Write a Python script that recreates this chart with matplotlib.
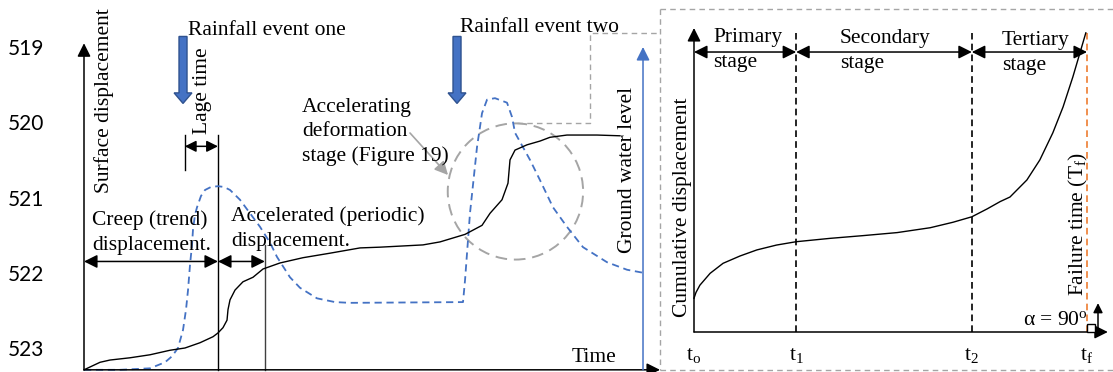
import matplotlib
matplotlib.use("Agg")
import matplotlib.pyplot as plt
from matplotlib.patches import Ellipse, FancyArrow, Rectangle

plt.rcParams['font.family'] = ['Liberation Serif', 'DejaVu Serif']
plt.rcParams['mathtext.fontset'] = 'custom'
plt.rcParams['mathtext.rm'] = 'Liberation Serif'
plt.rcParams['mathtext.it'] = 'Liberation Serif:italic'
plt.rcParams['mathtext.default'] = 'regular'

W, H = 1113, 372
FS = 15.5
BLEU = '#4472C4'
BLEU_FONCE = '#2F528F'
GRIS = '#A5A5A5'
ORANGE = '#ED7D31'

# --- panneau gauche : temps (0-100), niveau (519 en haut -> 523 en bas)
niveaux = [519, 520, 521, 522, 523]
dep_t = [0, 2.78, 4.51, 7.99, 11.46, 14.93, 17.53, 20.14, 22.40, 23.26, 24.13, 24.83,
         25.00, 25.35, 26.22, 27.60, 29.34, 31.08, 34.03, 38.02, 42.71, 47.92, 51.39,
         58.85, 61.81, 66.15, 69.10, 70.49, 72.57, 73.61, 73.96, 74.83, 76.91, 79.17,
         80.90, 83.85, 89.06, 93.06]
dep_y = [523.29, 523.19, 523.16, 523.13, 523.09, 523.03, 523.00, 522.93, 522.85, 522.80,
         522.73, 522.63, 522.49, 522.36, 522.23, 522.12, 522.06, 521.95, 521.87, 521.80,
         521.74, 521.67, 521.66, 521.63, 521.59, 521.49, 521.37, 521.21, 521.03, 520.81,
         520.50, 520.37, 520.30, 520.25, 520.20, 520.17, 520.17, 520.18]
nappe_t = [0, 6.25, 11.46, 14.06, 15.28, 16.32, 17.19, 17.71, 18.06, 18.40, 18.75, 18.92,
           19.27, 19.62, 20.31, 21.01, 22.05, 23.26, 24.31, 25.35, 27.08, 28.82, 30.56,
           32.29, 33.51, 35.76, 37.50, 40.45, 43.58, 46.18, 65.80, 66.15, 67.01, 68.23,
           69.10, 69.97, 71.35, 73.44, 74.31, 74.83, 77.43, 79.17, 81.42, 83.85, 86.63,
           90.80, 94.27, 97.05]
nappe_y = [523.29, 523.29, 523.27, 523.19, 523.11, 523.00, 522.76, 522.49, 522.23, 521.90,
           521.63, 521.43, 521.23, 521.13, 520.98, 520.90, 520.86, 520.85, 520.86, 520.90,
           521.03, 521.21, 521.39, 521.60, 521.79, 522.06, 522.20, 522.34, 522.39, 522.40,
           522.39, 522.10, 521.21, 520.33, 519.88, 519.70, 519.68, 519.74, 519.93, 520.14,
           520.50, 520.77, 521.13, 521.39, 521.66, 521.86, 521.96, 522.00]
pluie_t = [17.19, 64.76]
t_lag = 17.5
t_rupture_tendance = 23.26
t_fin_acc = 31.4

# --- panneau droit : courbe de fluage en trois stades
etapes_t = [0, 2.6, 7.07, 10.0]
etapes_lbl = [r'$t_o$', r'$t_1$', r'$t_2$', r'$t_f$']
etapes_nom = ['Primary', 'Secondary', 'Tertiary']
fluage_t = [0, 0.05, 0.15, 0.41, 0.74, 1.17, 1.60, 2.10, 2.60, 3.46, 4.30, 5.17, 6.01,
            6.59, 7.07, 7.46, 7.79, 8.04, 8.47, 8.80, 9.13, 9.39, 9.64, 9.82, 9.97]
fluage_y = [1.11, 1.30, 1.54, 1.93, 2.26, 2.50, 2.70, 2.86, 2.97, 3.08, 3.17, 3.27, 3.43,
            3.61, 3.79, 4.05, 4.29, 4.44, 5.00, 5.66, 6.55, 7.40, 8.39, 9.18, 9.84]

fig = plt.figure(figsize=(W / 100, H / 100), dpi=100)

fleche = dict(arrowstyle='-|>', color='k', lw=1.1, mutation_scale=20, shrinkA=0, shrinkB=0)
double = dict(arrowstyle='<|-|>', color='k', lw=1.1, mutation_scale=20, shrinkA=0, shrinkB=0)

# panneau gauche
axl = fig.add_axes([84 / W, 0, 576 / W, 1])
axl.set_xlim(0, 100)
axl.set_ylim(523 + 24 / 75.25, 519 - 47 / 75.25)
axl.patch.set_visible(False)
for s in axl.spines.values():
    s.set_visible(False)
axl.set_xticks([])
axl.set_yticks(niveaux)
axl.set_yticklabels([str(v) for v in niveaux], family='Lato', fontsize=15)
axl.tick_params(axis='y', length=0, pad=29)

y0 = 523.29
axl.annotate('', xy=(0, 518.95), xytext=(0, y0), arrowprops=fleche, annotation_clip=False)
axl.annotate('', xy=(100, y0), xytext=(0, y0), arrowprops=fleche, annotation_clip=False)
axl.annotate('', xy=(97.05, 519.0), xytext=(97.05, y0), annotation_clip=False,
             arrowprops=dict(fleche, color=BLEU))

axl.plot([t_rupture_tendance] * 2, [y0, 520.17], color='k', lw=1)
axl.plot([t_fin_acc] * 2, [y0, 521.63], color='#404040', lw=1)
axl.plot([t_lag] * 2, [520.17, 520.63], color='k', lw=1)
axl.annotate('', xy=(t_rupture_tendance, 521.85), xytext=(0, 521.85), arrowprops=double)
axl.annotate('', xy=(t_fin_acc, 521.85), xytext=(t_rupture_tendance, 521.85), arrowprops=double)
axl.annotate('', xy=(t_rupture_tendance, 520.32), xytext=(t_lag, 520.32),
             arrowprops=dict(double, mutation_scale=17))

for t in pluie_t:
    axl.add_patch(FancyArrow(t, 518.86, 0, 0.89, width=1.39, head_width=3.1, head_length=0.14,
                             length_includes_head=True, fc=BLEU, ec=BLEU_FONCE, lw=1))

axl.add_patch(Ellipse((74.9, 520.92), 23.5, 1.81, fill=False, ec=GRIS, lw=1.4, ls=(0, (6, 3.5))))
axl.plot(nappe_t, nappe_y, color=BLEU, lw=1.3, ls=(0, (4, 2.6)), clip_on=False)
axl.plot(dep_t, dep_y, color='k', lw=1.0, clip_on=False)

# panneau droit
axr = fig.add_axes([694 / W, 40 / H, 393 / W, 304 / H])
axr.set_xlim(0, 10)
axr.set_ylim(0, 10)
axr.patch.set_visible(False)
for s in axr.spines.values():
    s.set_visible(False)
axr.set_yticks([])
axr.set_xticks(etapes_t, etapes_lbl)
axr.tick_params(axis='x', length=0, pad=10, labelsize=FS)

axr.annotate('', xy=(0, 10.0), xytext=(0, 0), arrowprops=fleche, annotation_clip=False)
axr.annotate('', xy=(10.53, 0), xytext=(0, 0), arrowprops=fleche, annotation_clip=False)
for t in etapes_t[1:3]:
    axr.plot([t, t], [0, 9.84], color='k', lw=1.2, ls=(0, (4, 2.5)))
axr.plot([etapes_t[3]] * 2, [0, 9.84], color=ORANGE, lw=1.2, ls=(0, (4, 2.5)), clip_on=False)
for a, b in zip(etapes_t[:-1], etapes_t[1:]):
    axr.annotate('', xy=(b, 9.21), xytext=(a, 9.21), arrowprops=double)
axr.plot(fluage_t, fluage_y, color='k', lw=1.0, clip_on=False)
axr.add_patch(Rectangle((10.0, 0), 0.2, 0.26, fc='white', ec='k', lw=1, clip_on=False, zorder=4))
axr.annotate('', xy=(10.28, 0.95), xytext=(10.28, 0), annotation_clip=False,
             arrowprops=dict(fleche, mutation_scale=14))

# calque en pixels pour les textes et le cadre
ov = fig.add_axes([0, 0, 1, 1])
ov.set_xlim(0, W)
ov.set_ylim(H, 0)
ov.axis('off')

cadre = dict(color=GRIS, lw=1, ls=(0, (4, 3)))
ov.plot([660, 660], [9, 370], **cadre)
ov.plot([660, W], [9, 9], **cadre)
ov.plot([660, W], [370, 370], **cadre)
ov.plot([517, 590, 590, 660], [123, 123, 33, 33], **cadre)
ov.annotate('', xy=(448, 175), xytext=(410, 133),
            arrowprops=dict(arrowstyle='-|>', color=GRIS, lw=1.2, mutation_scale=20,
                            shrinkA=0, shrinkB=0))

def txt(x, y, s, **kw):
    ov.text(x, y, s, fontsize=FS, va='baseline', ha='left', **kw)

def vtxt(x, y, s):
    ov.text(x, y, s, fontsize=FS, rotation=90, ha='center', va='center')

txt(188, 35, 'Rainfall event one')
txt(460, 32, 'Rainfall event two')
txt(302, 112, 'Accelerating')
txt(302, 136, 'deformation')
txt(302, 161, 'stage (Figure 19)')
txt(92, 225, 'Creep (trend)')
txt(92, 250, 'displacement.')
txt(231, 221, 'Accelerated (periodic)')
txt(231, 246, 'displacement.')
txt(572, 362, 'Time')
vtxt(104, 101, 'Surface displacement')
vtxt(203, 91, 'Lage time')
vtxt(628, 170, 'Ground water level')
vtxt(682, 207, 'Cumulative displacement')
vtxt(1078, 224, 'Failure time (T$_f$)')

for nom, x, yb in zip(etapes_nom, [713, 840, 1002], [42, 43, 45]):
    txt(x, yb, nom)
    txt(x, yb + 25, 'stage')
ov.text(1088, 325, 'α = 90$^o$', fontsize=FS, ha='right', va='baseline')

fig.savefig('out.png', dpi=100)
